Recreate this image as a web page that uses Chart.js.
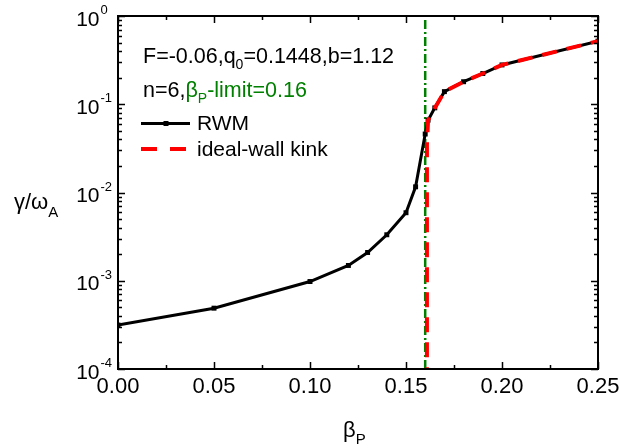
<!DOCTYPE html>
<html>
<head>
<meta charset="utf-8">
<script src="https://cdn.jsdelivr.net/npm/chart.js@4.4.0/dist/chart.umd.min.js"></script>
<style>
    html, body { margin: 0; padding: 0; background: #fff; }
</style>
</head>
<body>
<canvas id="growth" width="619" height="448"></canvas>
<script>
// RWM growth rate vs beta_P
const betaRWM = [0, 0.05, 0.10, 0.12, 0.13, 0.14, 0.15, 0.155, 0.16, 0.1615, 0.165, 0.17, 0.18, 0.19, 0.20, 0.25];
const gammaRWM = [3.15e-4, 4.89e-4, 9.8e-4, 1.49e-3, 2.09e-3, 3.32e-3, 5.9e-3, 1.16e-2, 0.046, 0.066, 0.091, 0.139, 0.18, 0.223, 0.279, 0.519];

// ideal-wall kink, unstable only above the limit
const betaKink = [0.1609, 0.1609, 0.1615, 0.165, 0.17, 0.18, 0.19, 0.20, 0.25];
const gammaKink = [1e-5, 0.035, 0.066, 0.091, 0.139, 0.18, 0.223, 0.279, 0.519];

const betaLimit = 0.16;

const xTicks = [0, 0.05, 0.10, 0.15, 0.20, 0.25];
const xTickLabels = ['0.00', '0.05', '0.10', '0.15', '0.20', '0.25'];
const yExponents = [-4, -3, -2, -1, 0];

const FONT = "'Liberation Sans', Arial, sans-serif";
const GREEN = '#008000';

function toPoints(xs, ys) {
    let pts = [];
    for (let i = 0; i < xs.length; i++) pts.push({ x: xs[i], y: ys[i] });
    return pts;
}

// writes a list of [text, size, dy, color] runs left to right
function drawRuns(ctx, x, y, runs) {
    for (let i = 0; i < runs.length; i++) {
        let r = runs[i];
        ctx.font = r[1] + 'px ' + FONT;
        ctx.fillStyle = r[3] || '#000';
        ctx.textAlign = 'left';
        ctx.textBaseline = 'alphabetic';
        ctx.fillText(r[0], x, y + (r[2] || 0));
        x += ctx.measureText(r[0]).width;
    }
    return x;
}

const framePlugin = {
    id: 'frame',
    afterDraw(chart) {
        const ctx = chart.ctx;
        const area = chart.chartArea;
        const xs = chart.scales.x;
        const ys = chart.scales.y;
        ctx.save();

        // box
        ctx.strokeStyle = '#000';
        ctx.lineWidth = 2;
        ctx.strokeRect(area.left, area.top, area.right - area.left, area.bottom - area.top);

        // x ticks, top and bottom
        ctx.lineWidth = 1.5;
        ctx.beginPath();
        for (let v = 0; v <= 0.2501; v += 0.025) {
            let px = Math.round(xs.getPixelForValue(v)) + 0.5;
            let major = Math.abs(v / 0.05 - Math.round(v / 0.05)) < 1e-6;
            let len = major ? 7 : 4;
            ctx.moveTo(px, area.bottom); ctx.lineTo(px, area.bottom - len);
            ctx.moveTo(px, area.top); ctx.lineTo(px, area.top + len);
        }
        // y ticks, left and right
        for (let e = -4; e <= 0; e++) {
            for (let m = 1; m <= 9; m++) {
                if (e === 0 && m > 1) break;
                let py = Math.round(ys.getPixelForValue(m * Math.pow(10, e))) + 0.5;
                let len = m === 1 ? 7 : 4;
                ctx.moveTo(area.left, py); ctx.lineTo(area.left + len, py);
                ctx.moveTo(area.right, py); ctx.lineTo(area.right - len, py);
            }
        }
        ctx.stroke();

        // x tick labels
        ctx.fillStyle = '#000';
        ctx.font = '22px ' + FONT;
        ctx.textAlign = 'center';
        ctx.textBaseline = 'alphabetic';
        for (let i = 0; i < xTicks.length; i++) {
            ctx.fillText(xTickLabels[i], xs.getPixelForValue(xTicks[i]), area.bottom + 24);
        }

        // y tick labels 10^n
        for (let i = 0; i < yExponents.length; i++) {
            let py = ys.getPixelForValue(Math.pow(10, yExponents[i]));
            ctx.font = '21px ' + FONT;
            ctx.textAlign = 'right';
            ctx.fillStyle = '#000';
            ctx.fillText('10', 99.5, py + 9.5);
            ctx.font = '13px ' + FONT;
            ctx.textAlign = 'left';
            ctx.fillText(String(yExponents[i]), 100.5, py - 2);
        }

        // axis titles
        drawRuns(ctx, 14, 209, [['\u03B3/\u03C9', 22], ['A', 15, 8]]);
        drawRuns(ctx, 343, 437, [['\u03B2', 22], ['P', 15, 7]]);

        // parameters
        drawRuns(ctx, 143, 63, [['F=-0.06,q', 21.5], ['0', 14, 6], ['=0.1448,b=1.12', 21.5]]);
        drawRuns(ctx, 143, 97, [['n=6,', 21.5], ['\u03B2', 21.5, 0, GREEN], ['P', 14, 6, GREEN], ['-limit=0.16', 21.5, 0, GREEN]]);

        // legend
        ctx.lineWidth = 3;
        ctx.strokeStyle = '#000';
        ctx.beginPath();
        ctx.moveTo(141, 123.5); ctx.lineTo(190, 123.5);
        ctx.stroke();
        ctx.fillStyle = '#000';
        ctx.fillRect(163.5, 121, 5, 5);
        ctx.lineWidth = 4;
        ctx.strokeStyle = '#ff0000';
        ctx.setLineDash([16, 13]);
        ctx.beginPath();
        ctx.moveTo(141, 149); ctx.lineTo(187, 149);
        ctx.stroke();
        ctx.setLineDash([]);
        drawRuns(ctx, 197, 130, [['RWM', 21]]);
        drawRuns(ctx, 197, 156, [['ideal-wall kink', 21]]);

        ctx.restore();
    }
};

new Chart(document.getElementById('growth'), {
    type: 'scatter',
    data: {
        datasets: [{
            label: 'ideal-wall kink',
            data: toPoints(betaKink, gammaKink),
            showLine: true,
            borderColor: '#ff0000',
            borderWidth: 4,
            borderDash: [15, 10],
            pointRadius: 0,
            order: 0
        }, {
            label: 'RWM',
            data: toPoints(betaRWM, gammaRWM),
            showLine: true,
            borderColor: '#000',
            borderWidth: 3,
            pointStyle: 'rect',
            pointRadius: 3.5,
            pointBackgroundColor: '#000',
            pointBorderWidth: 0,
            order: 1
        }, {
            label: 'limit',
            data: [{ x: betaLimit, y: 1e-4 }, { x: betaLimit, y: 1 }],
            showLine: true,
            borderColor: GREEN,
            borderWidth: 2.5,
            borderDash: [9, 3, 2, 3],
            pointRadius: 0,
            order: 2
        }]
    },
    options: {
        responsive: false,
        devicePixelRatio: 1,
        animation: false,
        layout: { padding: { left: 118, right: 21, top: 16, bottom: 79 } },
        scales: {
            x: { type: 'linear', min: 0, max: 0.25, display: false },
            y: { type: 'logarithmic', min: 1e-4, max: 1, display: false }
        },
        plugins: {
            legend: { display: false },
            tooltip: { enabled: false }
        }
    },
    plugins: [framePlugin]
});
</script>
</body>
</html>
